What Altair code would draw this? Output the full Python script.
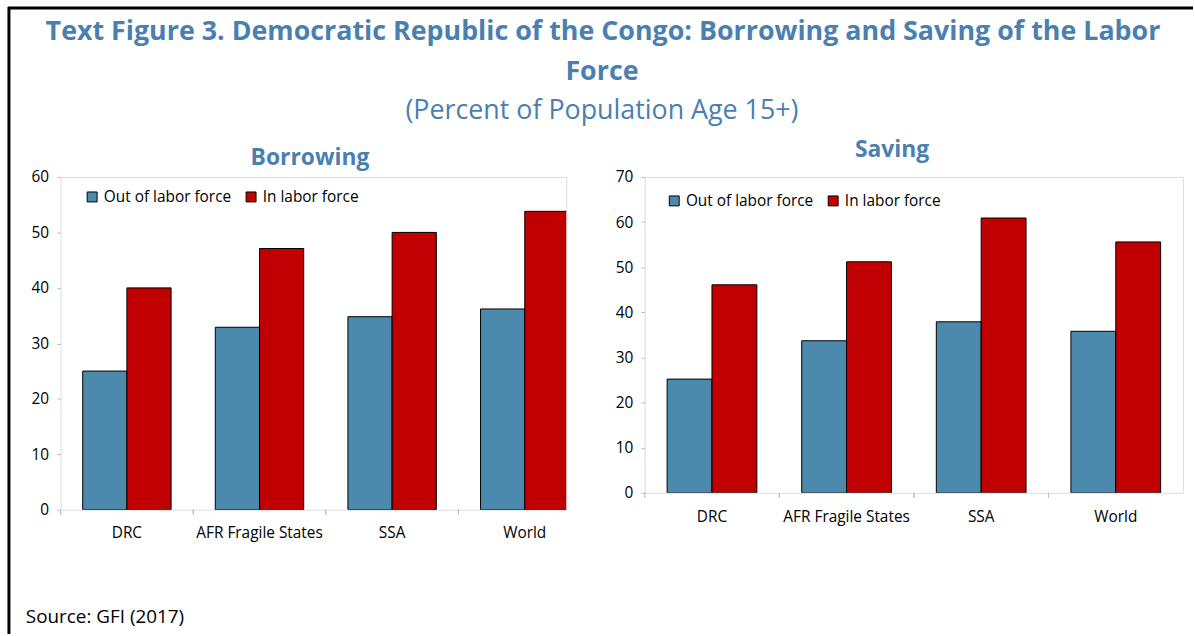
import altair as alt
import pandas as pd

categories = ["DRC", "AFR Fragile States", "SSA", "World"]
series = ["Out of labor force", "In labor force"]
borrow_out = [25.0, 32.9, 34.8, 36.2]
borrow_in = [40.0, 47.1, 50.0, 53.8]
save_out = [25.2, 33.7, 37.9, 35.8]
save_in = [46.1, 51.2, 60.9, 55.6]

title_lines = ["Text Figure 3. Democratic Republic of the Congo: Borrowing and Saving of the Labor", "Force"]
subtitle = "(Percent of Population Age 15+)"
panel_titles = ["Borrowing", "Saving"]
source = "Source: GFI (2017)"

BLUE = "#4b8aac"
RED = "#c00000"
TBLUE = "#4a7fb0"
GRID = "#bfbfbf"
FONT = "Open Sans"
LBL = 15.5


def make_df(out_vals, in_vals):
    rows = []
    for c, o, i in zip(categories, out_vals, in_vals):
        rows.append({"cat": c, "series": series[0], "value": o})
        rows.append({"cat": c, "series": series[1], "value": i})
    return pd.DataFrame(rows)


def panel(df, w, h, ymax, legend_x, legend_y, xrange=None, x_label_pad=14):
    sc = dict(domain=categories, paddingInner=0, paddingOuter=0)
    if xrange is not None:
        sc["range"] = xrange
    xaxis = alt.Axis(title=None, labelAngle=0, ticks=False, domain=False,
                     labelPadding=x_label_pad, labelFontSize=LBL, labelColor="black", labelFont=FONT)
    base = alt.Chart(df)
    bars = base.mark_bar(stroke="black", strokeWidth=1, clip=True).encode(
        x=alt.X("cat:N", sort=categories, scale=alt.Scale(**sc), axis=xaxis),
        xOffset=alt.XOffset("series:N", sort=series,
                            scale=alt.Scale(domain=series, paddingOuter=0.5, paddingInner=0)),
        y=alt.Y("value:Q", scale=alt.Scale(domain=[0, ymax], nice=False),
                axis=alt.Axis(values=list(range(0, ymax + 1, 10)), title=None, domain=False,
                              grid=False, tickColor=GRID, tickSize=4, labelFontSize=LBL,
                              labelColor="black", labelPadding=8, labelFont=FONT)),
        color=alt.Color("series:N", sort=series,
                        scale=alt.Scale(domain=series, range=[BLUE, RED]),
                        legend=alt.Legend(title=None, orient="none", legendX=legend_x,
                                          legendY=legend_y, direction="horizontal",
                                          symbolType="square", symbolSize=100,
                                          symbolStrokeColor="black", symbolStrokeWidth=1,
                                          labelFontSize=LBL, labelFont=FONT, labelColor="black",
                                          labelOffset=4, columnPadding=12, padding=0)),
    )
    ticks = base.mark_rule(color=GRID, clip=False).encode(
        x=alt.X("cat:N", sort=categories, bandPosition=0, scale=alt.Scale(**sc), axis=xaxis),
        y=alt.value(h),
        y2=alt.value(h + 5),
    )
    return (bars + ticks).properties(width=w, height=h)


# Borrowing plot: origin near (60,176) on the page
bw, bh = 509, 335
left = panel(make_df(borrow_out, borrow_in), bw, bh, 60, 24, 12, xrange=[0, 534], x_label_pad=16)

one = pd.DataFrame({"k": [0]})
deco = alt.Chart(one)
frame_top = deco.mark_rule(color="black", strokeWidth=3, clip=False).encode(
    x=alt.value(-53), x2=alt.value(1140), y=alt.value(-170))
frame_left = deco.mark_rule(color="black", strokeWidth=3, clip=False).encode(
    x=alt.value(-52), y=alt.value(-171), y2=alt.value(460))
t1 = deco.mark_text(text=title_lines[0], font=FONT, fontSize=27, fontWeight="bold", color=TBLUE,
                    align="center", baseline="middle", clip=False).encode(
    x=alt.value(546), y=alt.value(-146))
t2 = deco.mark_text(text=title_lines[1], font=FONT, fontSize=27, fontWeight="bold", color=TBLUE,
                    align="center", baseline="middle", clip=False).encode(
    x=alt.value(545), y=alt.value(-106))
t3 = deco.mark_text(text=subtitle, font=FONT, fontSize=27, color=TBLUE,
                    align="center", baseline="middle", clip=False).encode(
    x=alt.value(545), y=alt.value(-66))
t4 = deco.mark_text(text=panel_titles[0], font=FONT, fontSize=23, fontWeight="bold", color=TBLUE,
                    align="center", baseline="middle", clip=False).encode(
    x=alt.value(251), y=alt.value(-19))
src = deco.mark_text(text=source, font=FONT, fontSize=19, color="black",
                     align="left", baseline="middle", clip=False).encode(
    x=alt.value(-35), y=alt.value(443))

left = alt.layer(left, frame_top, frame_left, t1, t2, t3, t4, src)

# Saving plot
right = panel(make_df(save_out, save_in), 542, 318, 70, 22, 16, x_label_pad=17).properties(
    title=alt.TitleParams(panel_titles[1], fontSize=23, font=FONT, fontWeight="bold", color=TBLUE,
                          anchor="middle", dx=-22, offset=8)
)

chart = alt.hconcat(left, right, spacing=79, bounds="flush").resolve_scale(
    color="independent", x="independent", y="independent", xOffset="independent"
).resolve_legend(color="independent").properties(
    padding={"left": 6, "top": 3, "right": 0, "bottom": 0}
).configure_view(stroke=GRID, strokeWidth=1).configure(background="white")

chart.save("out.html", embed_options={"renderer": "svg", "actions": False})
